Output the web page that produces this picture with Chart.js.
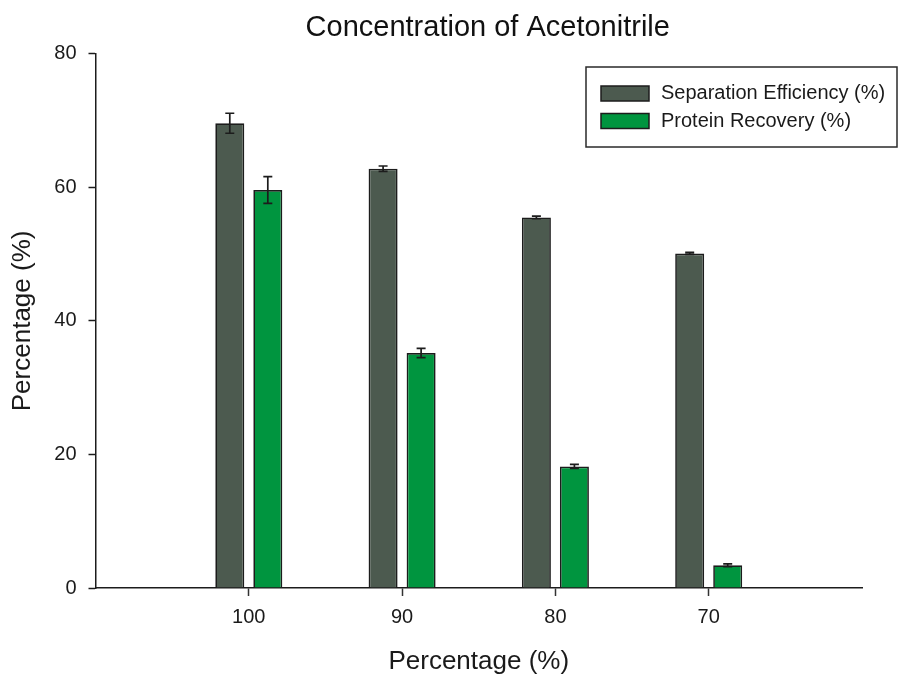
<!DOCTYPE html>
<html lang="en">
  <head>
    <meta charset="UTF-8" />
    <title>Concentration of Acetonitrile</title>
    <script src="https://cdn.jsdelivr.net/npm/chart.js"></script>
    <style>
      body {
        margin: 0;
        padding: 0;
        background-color: #ffffff;
      }

      .chart-box {
        width: 905px;
        height: 675px;
      }
    </style>
  </head>

  <body>
    <div class="chart-box">
      <canvas id="barChart" width="905" height="675"></canvas>
    </div>

    <script>
      const concentrations = ["100", "90", "80", "70"];
      const separationEfficiency = [69.6, 62.8, 55.5, 50.1];
      const separationError = [1.5, 0.4, 0.2, 0.15];
      const proteinRecovery = [59.6, 35.2, 18.2, 3.4];
      const proteinError = [2.0, 0.7, 0.3, 0.2];
      const yTicks = [0, 20, 40, 60, 80];

      const FONT = "'Liberation Sans', Arial, sans-serif";
      const INK = "#1c1c1c";

      // empty slot at each end so the four groups sit on ticks 1..4 of 5 spans
      const pad = (arr) => [null, ...arr, null];
      const labels = ["", ...concentrations, ""];

      // vertical error bars drawn on top of every bar
      const errorBars = {
        id: "errorBars",
        afterDatasetsDraw(chart) {
          const { ctx } = chart;
          const y = chart.scales.y;
          ctx.save();
          ctx.strokeStyle = INK;
          ctx.lineWidth = 1.7;
          chart.data.datasets.forEach((ds, di) => {
            const meta = chart.getDatasetMeta(di);
            meta.data.forEach((bar, i) => {
              const v = ds.data[i];
              const e = ds.errors[i];
              if (v == null || e == null) return;
              const top = y.getPixelForValue(v + e);
              const bot = y.getPixelForValue(v - e);
              ctx.beginPath();
              ctx.moveTo(bar.x, top);
              ctx.lineTo(bar.x, bot);
              ctx.moveTo(bar.x - 4.5, top);
              ctx.lineTo(bar.x + 4.5, top);
              ctx.moveTo(bar.x - 4.5, bot);
              ctx.lineTo(bar.x + 4.5, bot);
              ctx.stroke();
            });
          });
          ctx.restore();
        },
      };

      // boxed legend in the upper right corner
      const boxLegend = {
        id: "boxLegend",
        afterDraw(chart) {
          const { ctx } = chart;
          const right = chart.width - 8;
          const left = 586;
          const top = 67;
          const bottom = 147;
          ctx.save();
          ctx.strokeStyle = "#2a2a2a";
          ctx.lineWidth = 1.5;
          ctx.strokeRect(left, top, right - left, bottom - top);
          ctx.font = "20px " + FONT;
          ctx.textBaseline = "middle";
          ctx.textAlign = "left";
          chart.data.datasets.forEach((ds, i) => {
            const cy = 93.5 + i * 27.5;
            ctx.fillStyle = ds.backgroundColor;
            ctx.fillRect(601, cy - 7.5, 48, 15);
            ctx.strokeStyle = INK;
            ctx.lineWidth = 1.5;
            ctx.strokeRect(601, cy - 7.5, 48, 15);
            ctx.fillStyle = "#1a1a1a";
            ctx.fillText(ds.label, 661, cy);
          });
          ctx.restore();
        },
      };

      // nudge the title a little right of the plot centre
      const titleShift = {
        id: "titleShift",
        afterLayout(chart) {
          const t = chart.titleBlock;
          if (t) {
            t.left += 9;
            t.right += 9;
          }
        },
      };

      const chart = new Chart(document.getElementById("barChart"), {
        type: "bar",
        data: {
          labels: labels,
          datasets: [
            {
              label: "Separation Efficiency (%)",
              data: pad(separationEfficiency),
              errors: pad(separationError),
              backgroundColor: "#4c5a4f",
              borderColor: INK,
              borderWidth: 1.7,
            },
            {
              label: "Protein Recovery (%)",
              data: pad(proteinRecovery),
              errors: pad(proteinError),
              backgroundColor: "#00953f",
              borderColor: INK,
              borderWidth: 1.7,
            },
          ],
        },
        options: {
          responsive: false,
          animation: false,
          categoryPercentage: 0.496,
          barPercentage: 0.763,
          layout: { padding: { top: 0, right: 43, bottom: 0, left: 0 } },
          plugins: {
            legend: { display: false },
            tooltip: { enabled: false },
            title: {
              display: true,
              fullSize: false,
              text: "Concentration of Acetonitrile",
              color: "#111",
              font: { family: FONT, size: 29, weight: "normal" },
              padding: { top: 11, bottom: 8 },
            },
          },
          scales: {
            x: {
              offset: false,
              afterFit: (scale) => {
                scale.height = 87;
              },
              border: { display: true, color: INK, width: 1.5 },
              grid: {
                offset: false,
                drawOnChartArea: false,
                drawTicks: true,
                tickLength: 8,
                tickWidth: 1.5,
                tickColor: (c) =>
                  c.tick && c.tick.label === "" ? "rgba(0,0,0,0)" : "#333",
              },
              ticks: {
                color: "#1a1a1a",
                padding: 9,
                maxRotation: 0,
                autoSkip: false,
                font: { family: FONT, size: 20 },
              },
              title: {
                display: true,
                text: "Percentage (%)",
                color: "#1a1a1a",
                font: { family: FONT, size: 26, lineHeight: 1 },
                padding: { top: 0, bottom: 0 },
              },
            },
            y: {
              min: 0,
              max: 80,
              afterFit: (scale) => {
                scale.width = 95.5;
              },
              afterBuildTicks: (scale) => {
                scale.ticks = yTicks.map((v) => ({ value: v }));
              },
              border: { display: true, color: INK, width: 1.5 },
              grid: {
                drawOnChartArea: false,
                drawTicks: true,
                tickLength: 7,
                tickWidth: 1.5,
                tickColor: INK,
              },
              ticks: {
                color: "#1a1a1a",
                padding: 12,
                font: { family: FONT, size: 20 },
              },
              title: {
                display: true,
                text: "Percentage (%)",
                color: "#1a1a1a",
                font: { family: FONT, size: 26 },
                padding: { top: 7, bottom: 0 },
              },
            },
          },
        },
        plugins: [errorBars, boxLegend, titleShift],
      });
    </script>
  </body>
</html>
